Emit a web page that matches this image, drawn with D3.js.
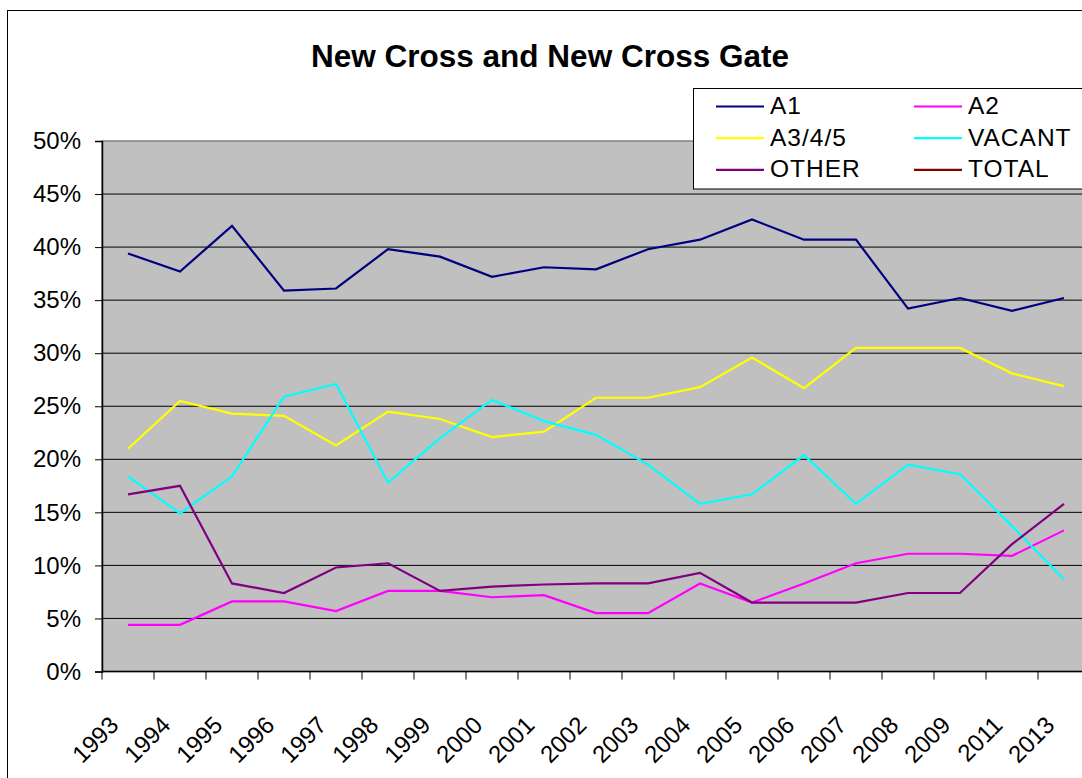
<!DOCTYPE html>
<html>
<head>
<meta charset="utf-8">
<script src="https://cdn.jsdelivr.net/npm/d3@7"></script>
<style>
  body { margin: 0; background: #fff; }
  svg { display: block; font-family: "Liberation Sans", Arial, sans-serif; }
</style>
</head>
<body>
<svg id="chart" width="1082" height="778"></svg>
<script>
// data (percent)
const years = ["1993","1994","1995","1996","1997","1998","1999","2000","2001","2002",
  "2003","2004","2005","2006","2007","2008","2009","2011","2013"]
const a1     = [39.4,37.7,42.0,35.9,36.1,39.8,39.1,37.2,38.1,37.9,39.8,40.7,42.6,40.7,40.7,34.2,35.2,34.0,35.2]
const a2     = [4.4,4.4,6.6,6.6,5.7,7.6,7.6,7.0,7.2,5.5,5.5,8.3,6.5,8.3,10.2,11.1,11.1,10.9,13.3]
const a345   = [21.0,25.5,24.3,24.1,21.3,24.5,23.8,22.1,22.6,25.8,25.8,26.8,29.6,26.7,30.5,30.5,30.5,28.1,26.9]
const vacant = [18.4,14.9,18.4,25.9,27.1,17.8,22.0,25.6,23.6,22.3,19.5,15.8,16.7,20.4,15.8,19.5,18.6,13.7,8.7]
const other  = [16.7,17.5,8.3,7.4,9.8,10.2,7.6,8.0,8.2,8.3,8.3,9.3,6.5,6.5,6.5,7.4,7.4,12.0,15.8]
const total  = [100,100,100,100,100,100,100,100,100,100,100,100,100,100,100,100,100,100,100]
const yTicks = [0,5,10,15,20,25,30,35,40,45,50]

const series = [
  { name: "A1", values: a1, color: "#000080" },
  { name: "A2", values: a2, color: "#FF00FF" },
  { name: "A3/4/5", values: a345, color: "#FFFF00" },
  { name: "VACANT", values: vacant, color: "#00FFFF" },
  { name: "OTHER", values: other, color: "#800080" },
  { name: "TOTAL", values: total, color: "#800000" }
]

const svg = d3.select("#chart")

// chart border (cropped at right/bottom)
svg.append("rect")
  .attr("x", 7.5).attr("y", 10.5)
  .attr("width", 1120).attr("height", 820)
  .attr("fill", "#fff").attr("stroke", "#000").attr("stroke-width", 1)

const plot = { left: 102, right: 1090, top: 141, bottom: 671.5 }

const x = d3.scaleBand().domain(years).range([plot.left, plot.right]).padding(0)
const y = d3.scaleLinear().domain([0, 50]).range([plot.bottom, plot.top])

// plot area
svg.append("rect")
  .attr("x", plot.left).attr("y", plot.top)
  .attr("width", plot.right - plot.left).attr("height", plot.bottom - plot.top)
  .attr("fill", "#C0C0C0").attr("stroke", "#808080").attr("stroke-width", 1.5)

svg.append("defs").append("clipPath").attr("id", "clip")
  .append("rect")
  .attr("x", plot.left).attr("y", plot.top)
  .attr("width", plot.right - plot.left).attr("height", plot.bottom - plot.top)

// gridlines
svg.append("g")
  .selectAll("line")
  .data(yTicks.filter(d => d > 0 && d < 50))
  .join("line")
  .attr("x1", plot.left).attr("x2", plot.right)
  .attr("y1", d => y(d)).attr("y2", d => y(d))
  .attr("stroke", "#000").attr("stroke-width", 1)

// y axis
const yAxis = svg.append("g")
  .attr("transform", "translate(" + plot.left + ",0)")
  .call(d3.axisLeft(y).tickValues(yTicks).tickFormat(d => d + "%").tickSize(7).tickPadding(14))
yAxis.select(".domain").attr("stroke", "#000").attr("stroke-width", 1.5)
yAxis.selectAll(".tick line").attr("stroke", "#000")
yAxis.selectAll(".tick text")
  .attr("fill", "#000").attr("font-size", 24)
  .attr("font-family", "Liberation Sans, Arial, sans-serif")

// x axis: ticks at category boundaries
const xg = svg.append("g")
xg.append("line")
  .attr("x1", plot.left).attr("x2", plot.right)
  .attr("y1", plot.bottom).attr("y2", plot.bottom)
  .attr("stroke", "#000").attr("stroke-width", 1.5)
xg.selectAll("line.tick")
  .data(years)
  .join("line")
  .attr("class", "tick")
  .attr("x1", d => x(d)).attr("x2", d => x(d))
  .attr("y1", plot.bottom).attr("y2", plot.bottom + 8)
  .attr("stroke", "#000")
xg.selectAll("text")
  .data(years)
  .join("text")
  .attr("transform", d => "translate(" + (x(d) + x.bandwidth() / 2 - 8) + "," + (plot.bottom + 55) + ") rotate(-45)")
  .attr("text-anchor", "end")
  .attr("font-size", 24)
  .attr("fill", "#000")
  .text(d => d)

// lines
const line = d3.line()
  .x((d, i) => x(years[i]) + x.bandwidth() / 2)
  .y(d => y(d))

svg.append("g")
  .attr("clip-path", "url(#clip)")
  .selectAll("path")
  .data(series)
  .join("path")
  .attr("d", d => line(d.values))
  .attr("fill", "none")
  .attr("stroke", d => d.color)
  .attr("stroke-width", 2.2)
  .attr("stroke-linejoin", "miter")

// title
svg.append("text")
  .attr("x", 550).attr("y", 67)
  .attr("text-anchor", "middle")
  .attr("font-size", 31.5)
  .attr("font-weight", "bold")
  .attr("fill", "#000")
  .text("New Cross and New Cross Gate")

// legend
const legend = svg.append("g")
legend.append("rect")
  .attr("x", 693.5).attr("y", 88.5)
  .attr("width", 420).attr("height", 100.5)
  .attr("fill", "#fff").attr("stroke", "#000").attr("stroke-width", 1)

const item = legend.selectAll("g.item")
  .data(series)
  .join("g")
  .attr("class", "item")
  .attr("transform", (d, i) => "translate(" + (i % 2 === 0 ? 716 : 914) + "," + (106.5 + Math.floor(i / 2) * 31.7) + ")")
item.append("line")
  .attr("x1", 0).attr("x2", 48)
  .attr("stroke", d => d.color).attr("stroke-width", 2.2)
item.append("text")
  .attr("x", 54).attr("y", 7.5)
  .attr("font-size", 24.5)
  .attr("letter-spacing", 1)
  .attr("fill", "#000")
  .text(d => d.name)
</script>
</body>
</html>
